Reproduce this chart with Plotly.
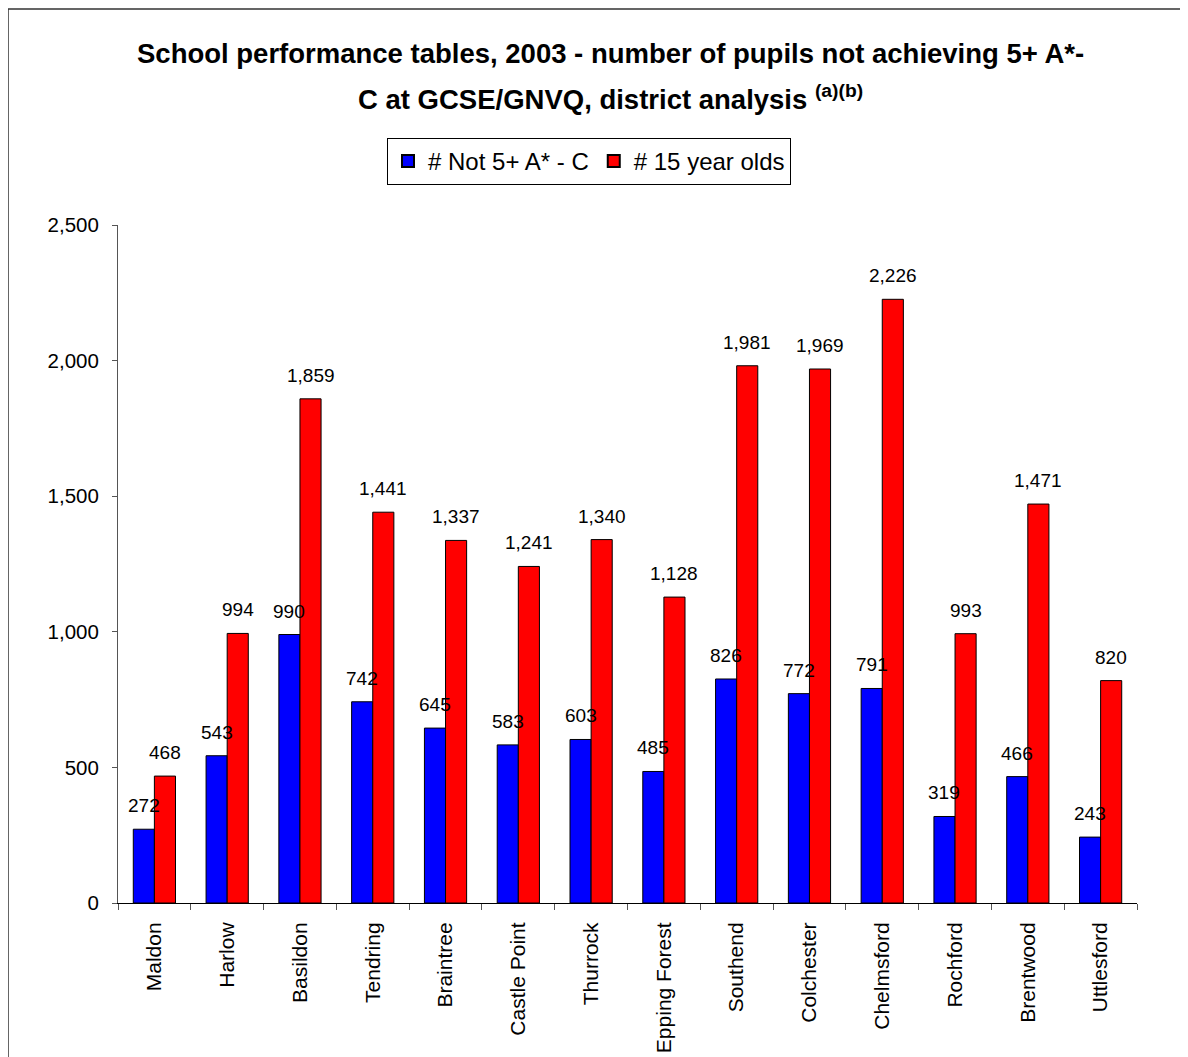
import plotly.graph_objects as go

districts = ["Maldon", "Harlow", "Basildon", "Tendring", "Braintree", "Castle Point",
             "Thurrock", "Epping Forest", "Southend", "Colchester", "Chelmsford",
             "Rochford", "Brentwood", "Uttlesford"]
not_5plus = [272, 543, 990, 742, 645, 583, 603, 485, 826, 772, 791, 319, 466, 243]
fifteen_year_olds = [468, 994, 1859, 1441, 1337, 1241, 1340, 1128, 1981, 1969, 2226, 993, 1471, 820]
y_ticks = [0, 500, 1000, 1500, 2000, 2500]

FONT = "Liberation Sans, Arial, sans-serif"
OFF = 8  # page body margin
W, H = 1188 - OFF, 1057 - OFF
L, T = 118 - OFF, 225 - OFF
R = W - (1137 - OFF)
B = H - (903 - OFF)
PW, PH = W - L - R, H - T - B
BARGAP = 0.42

fig = go.Figure()
fig.add_trace(go.Bar(x=districts, y=not_5plus, name="# Not 5+ A* - C",
                     marker=dict(color="#0000FF", line=dict(color="black", width=1))))
fig.add_trace(go.Bar(x=districts, y=fifteen_year_olds, name="# 15 year olds",
                     marker=dict(color="#FF0000", line=dict(color="black", width=1))))

annotations = []
half = (1 - BARGAP) / 4
for i, (a, b) in enumerate(zip(not_5plus, fifteen_year_olds)):
    for off, v in ((-half, a), (half, b)):
        annotations.append(dict(x=i + off, y=v, xref="x", yref="y", text=f"{v:,}",
                                showarrow=False, yanchor="bottom", yshift=11,
                                font=dict(family=FONT, size=19, color="black")))

def py(pix):
    return (H - B - (pix - OFF)) / PH

def px(pix):
    return ((pix - OFF) - L) / PW

annotations.append(dict(x=px(610), y=py(54), xref="paper", yref="paper", showarrow=False,
                        xanchor="center", yanchor="middle",
                        text="<b>School performance tables, 2003 - number of pupils not achieving 5+ A*-</b>",
                        font=dict(family=FONT, size=27.5, color="black")))
annotations.append(dict(x=px(610), y=py(97), xref="paper", yref="paper", showarrow=False,
                        xanchor="center", yanchor="middle",
                        text="<b>C at GCSE/GNVQ, district analysis <sup>(a)(b)</sup></b>",
                        font=dict(family=FONT, size=27.5, color="black")))

fig.update_layout(
    width=W, height=H,
    margin=dict(l=L, r=R, t=T, b=B, autoexpand=False),
    paper_bgcolor="white", plot_bgcolor="white",
    barmode="group", bargap=BARGAP, bargroupgap=0,
    font=dict(family=FONT, color="black"),
    showlegend=True,
    legend=dict(orientation="h", x=px(589), y=py(138), xanchor="center", yanchor="top",
                xref="paper", yref="paper",
                bordercolor="black", borderwidth=1, bgcolor="white",
                font=dict(family=FONT, size=24, color="black"),
                itemsizing="constant", traceorder="normal"),
    annotations=annotations,
    shapes=[dict(type="rect", xref="paper", yref="paper",
                 x0=px(8), x1=px(1200), y0=py(1070), y1=py(9),
                 line=dict(color="#333333", width=1.5), fillcolor="rgba(0,0,0,0)", layer="below")],
    xaxis=dict(showline=True, linecolor="black", linewidth=1, ticks="outside",
               tickson="boundaries", ticklen=6, tickcolor="#555555",
               tickangle=-90, tickfont=dict(family=FONT, size=21, color="black"),
               ticklabelstandoff=10,
               showgrid=False, zeroline=False),
    yaxis=dict(range=[0, 2500], tickvals=y_ticks, tickformat=",d",
               showline=True, linecolor="#555555", linewidth=1, ticks="outside",
               ticklen=5, tickcolor="#555555", showgrid=False, zeroline=False,
               ticklabelstandoff=9,
               tickfont=dict(family=FONT, size=20.5, color="black")),
)

fig.write_html("out.html")
